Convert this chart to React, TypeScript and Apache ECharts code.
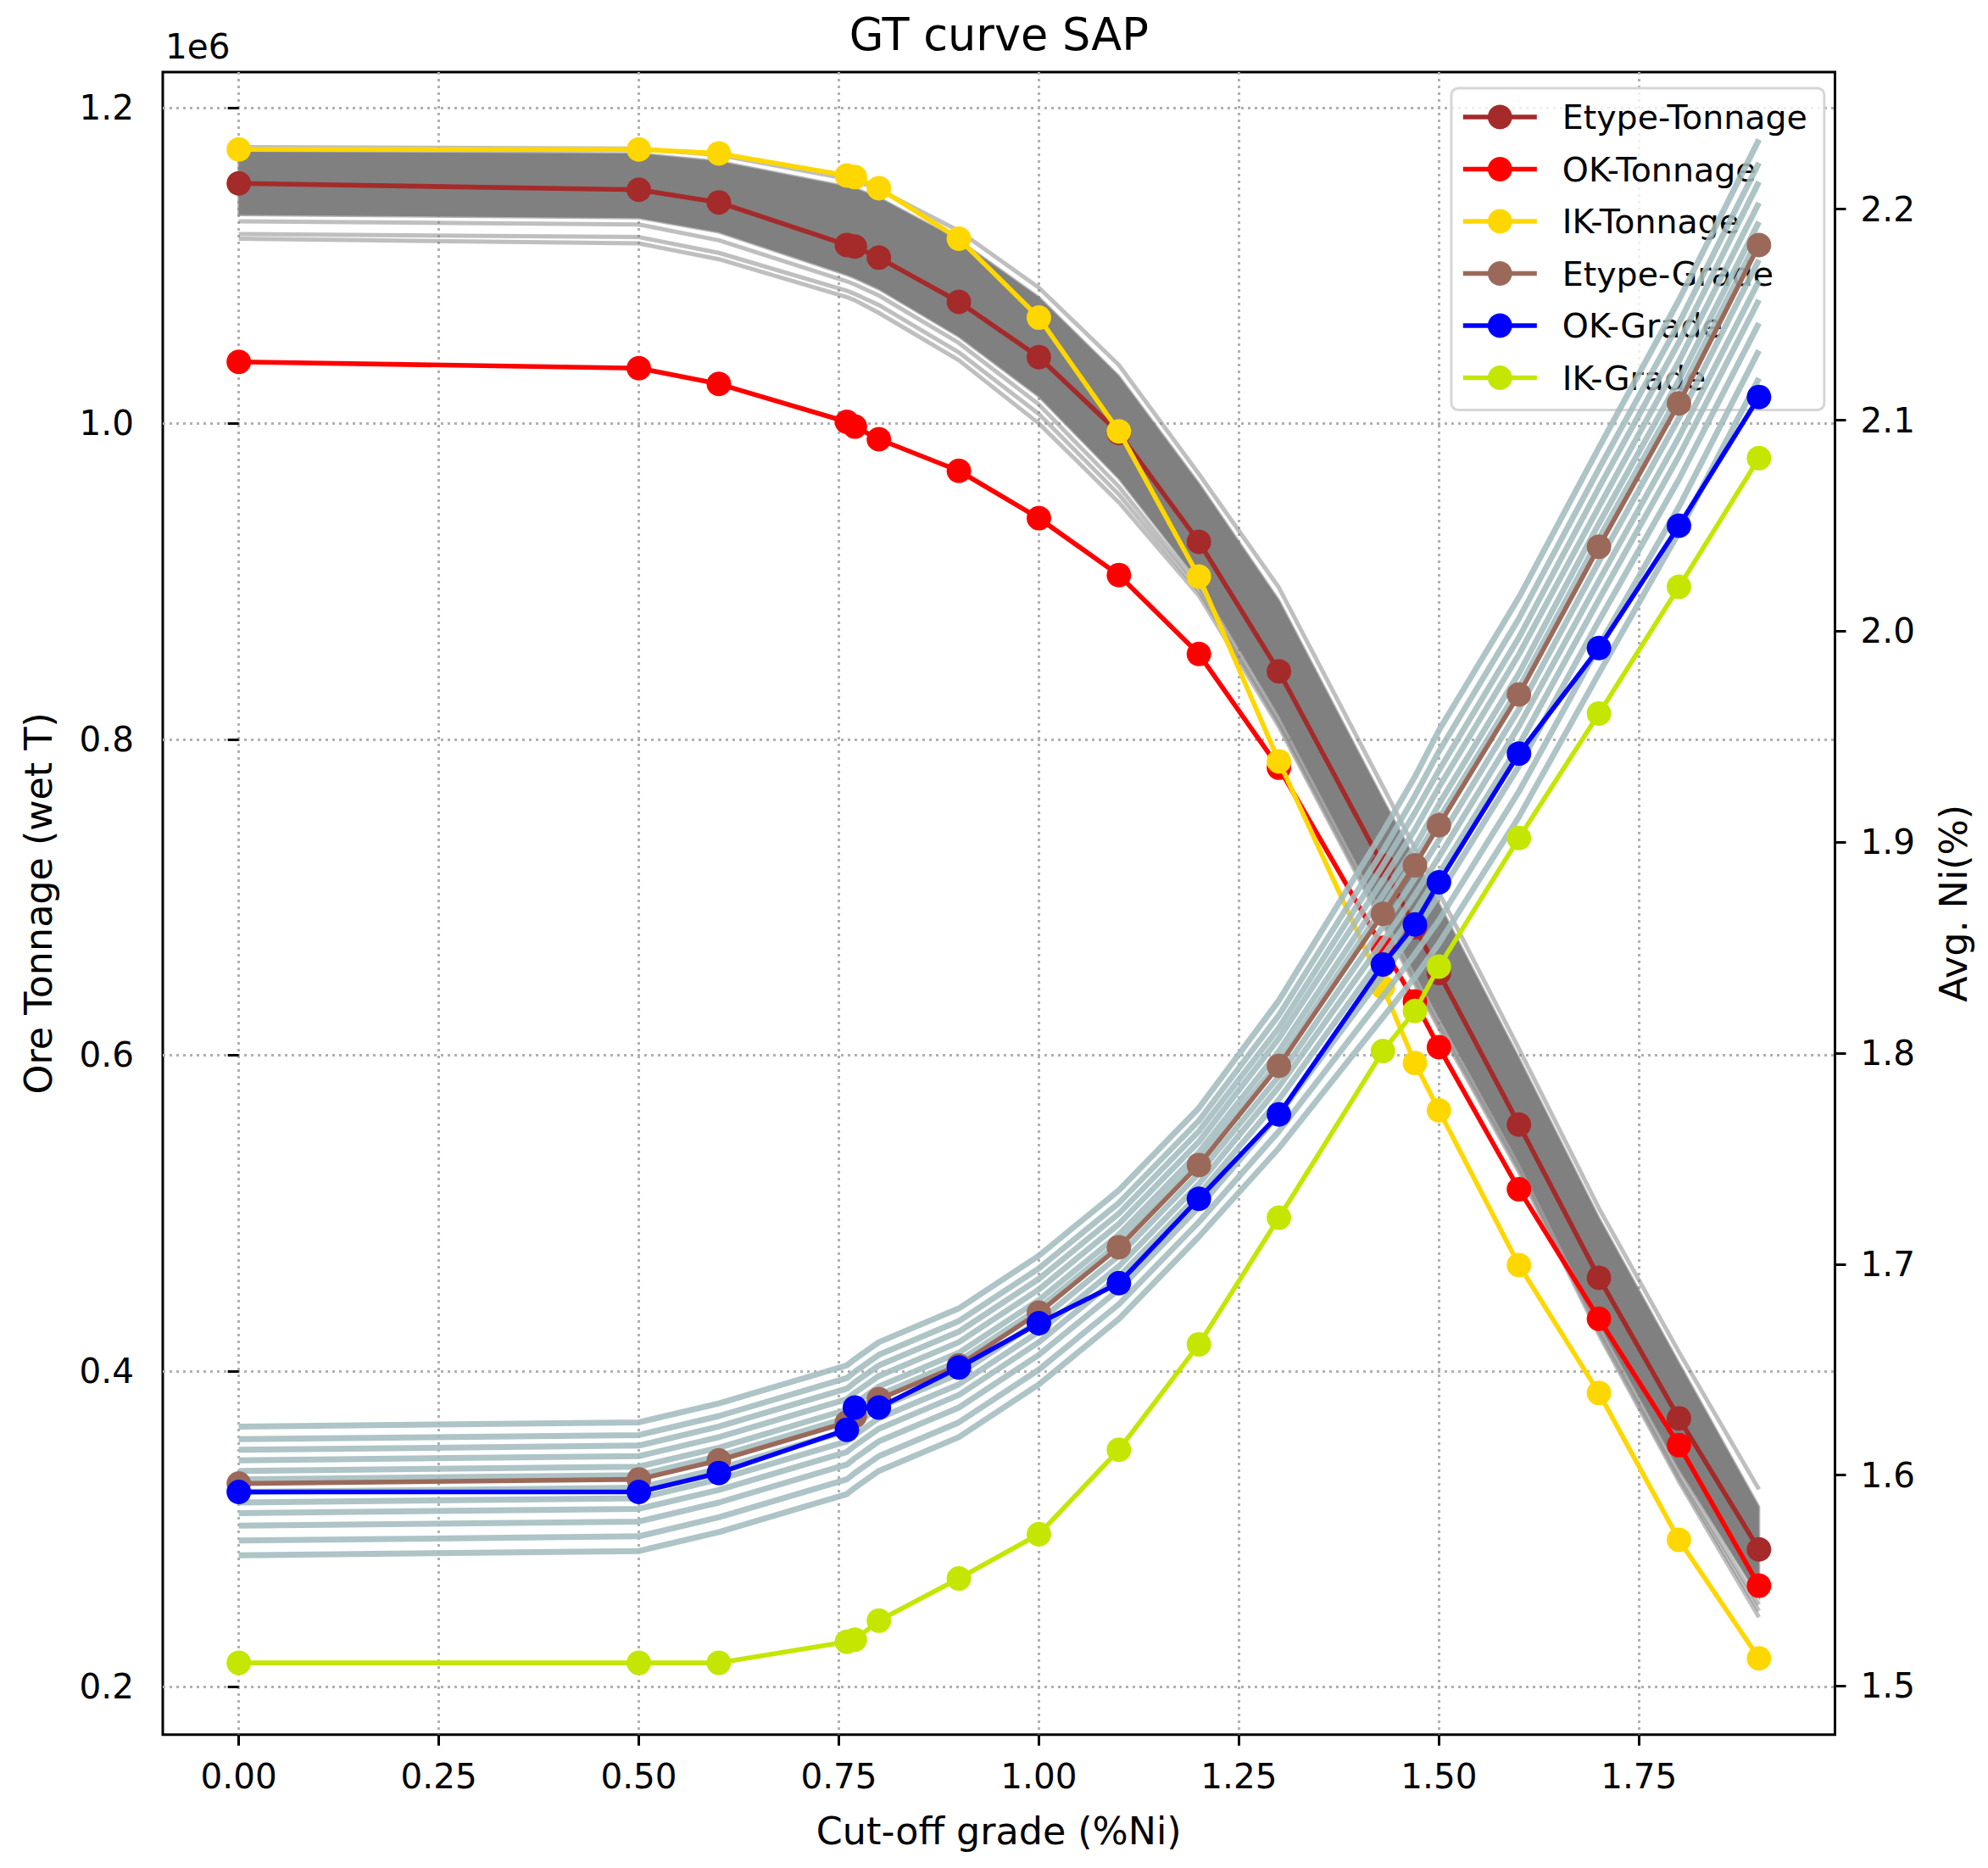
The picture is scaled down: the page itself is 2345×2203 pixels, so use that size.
import React, { useEffect, useRef } from "react";
import * as echarts from "echarts";

// ---------- data ----------
// cut-off grade (%Ni)
const X = [0, 0.5, 0.6, 0.76, 0.77, 0.8, 0.9, 1.0, 1.1, 1.2, 1.3, 1.43, 1.47, 1.5, 1.6, 1.7, 1.8, 1.9];
const X_TICKS = [0, 0.25, 0.5, 0.75, 1.0, 1.25, 1.5, 1.75];
const LEFT_TICKS = [0.2, 0.4, 0.6, 0.8, 1.0, 1.2];
const RIGHT_TICKS = [1.5, 1.6, 1.7, 1.8, 1.9, 2.0, 2.1, 2.2];

// Ore tonnage, in units of 1e6 wet T
const ETYPE_TON = [1.152, 1.148, 1.14, 1.113, 1.112, 1.105, 1.077, 1.042, 0.994, 0.925, 0.843, 0.72, 0.681, 0.652, 0.556, 0.459, 0.37, 0.287];
const OK_TON = [1.039, 1.035, 1.025, 1.001, 0.998, 0.99, 0.97, 0.94, 0.904, 0.854, 0.782, 0.668, 0.634, 0.605, 0.515, 0.433, 0.353, 0.264];
const IK_TON = [1.1735, 1.1735, 1.171, 1.157, 1.156, 1.149, 1.117, 1.067, 0.995, 0.903, 0.786, 0.643, 0.595, 0.565, 0.467, 0.386, 0.293, 0.218];

// Avg. Ni (%)
const ETYPE_GRADE = [1.596, 1.598, 1.607, 1.625, 1.628, 1.636, 1.652, 1.677, 1.708, 1.747, 1.794, 1.866, 1.889, 1.908, 1.97, 2.04, 2.108, 2.183];
const OK_GRADE = [1.592, 1.592, 1.601, 1.6215, 1.632, 1.632, 1.651, 1.672, 1.691, 1.731, 1.771, 1.842, 1.861, 1.881, 1.942, 1.992, 2.05, 2.111];
const IK_GRADE = [1.511, 1.511, 1.511, 1.521, 1.522, 1.531, 1.551, 1.572, 1.612, 1.662, 1.722, 1.801, 1.82, 1.841, 1.902, 1.961, 2.021, 2.082];

// simulated tonnage curves: dense core envelope + edge realisations (1e6 wet T)
const TON_CORE_HIGH = [1.172, 1.171, 1.166, 1.15, 1.149, 1.143, 1.116, 1.08, 1.03, 0.962, 0.888, 0.762, 0.724, 0.696, 0.598, 0.497, 0.405, 0.314];
const TON_CORE_LOW = [1.132, 1.13, 1.121, 1.094, 1.092, 1.085, 1.055, 1.017, 0.965, 0.9, 0.815, 0.69, 0.652, 0.624, 0.532, 0.43, 0.338, 0.257];
const TON_EDGES = [
  [1.128, 1.126, 1.116, 1.09, 1.088, 1.081, 1.051, 1.012, 0.96, 0.897, 0.812, 0.688, 0.65, 0.622, 0.53, 0.428, 0.335, 0.252],
  [1.12, 1.118, 1.108, 1.084, 1.082, 1.075, 1.045, 1.006, 0.955, 0.894, 0.81, 0.685, 0.647, 0.619, 0.528, 0.425, 0.332, 0.248],
  [1.117, 1.114, 1.104, 1.08, 1.078, 1.07, 1.04, 1.0, 0.95, 0.891, 0.808, 0.683, 0.645, 0.617, 0.526, 0.423, 0.33, 0.244],
  [1.175, 1.174, 1.17, 1.155, 1.154, 1.148, 1.122, 1.086, 1.037, 0.968, 0.896, 0.77, 0.731, 0.703, 0.604, 0.503, 0.412, 0.325],
];

// simulated grade curves (%Ni)
const GRADE_SIMS = [
  [1.623, 1.625, 1.634, 1.652, 1.655, 1.663, 1.679, 1.704, 1.735, 1.774, 1.825, 1.905, 1.931, 1.953, 2.016, 2.087, 2.157, 2.233],
  [1.617, 1.619, 1.628, 1.646, 1.649, 1.657, 1.673, 1.698, 1.729, 1.768, 1.818, 1.896, 1.922, 1.943, 2.006, 2.077, 2.146, 2.222],
  [1.612, 1.614, 1.623, 1.641, 1.644, 1.652, 1.668, 1.693, 1.724, 1.763, 1.812, 1.889, 1.914, 1.934, 1.997, 2.068, 2.137, 2.213],
  [1.607, 1.609, 1.618, 1.636, 1.639, 1.647, 1.663, 1.688, 1.719, 1.758, 1.807, 1.882, 1.906, 1.926, 1.989, 2.059, 2.128, 2.203],
  [1.602, 1.604, 1.613, 1.631, 1.634, 1.642, 1.658, 1.683, 1.714, 1.753, 1.801, 1.875, 1.898, 1.918, 1.98, 2.051, 2.119, 2.194],
  [1.598, 1.6, 1.609, 1.627, 1.63, 1.638, 1.654, 1.679, 1.71, 1.749, 1.796, 1.869, 1.892, 1.911, 1.973, 2.044, 2.112, 2.187],
  [1.592, 1.594, 1.603, 1.621, 1.624, 1.632, 1.648, 1.673, 1.704, 1.743, 1.789, 1.86, 1.883, 1.901, 1.963, 2.033, 2.101, 2.176],
  [1.587, 1.589, 1.598, 1.616, 1.619, 1.627, 1.643, 1.668, 1.699, 1.738, 1.784, 1.853, 1.875, 1.893, 1.955, 2.024, 2.092, 2.166],
  [1.582, 1.584, 1.593, 1.611, 1.614, 1.622, 1.638, 1.663, 1.694, 1.733, 1.778, 1.846, 1.867, 1.885, 1.946, 2.015, 2.083, 2.157],
  [1.576, 1.578, 1.587, 1.605, 1.608, 1.616, 1.632, 1.657, 1.688, 1.727, 1.771, 1.837, 1.858, 1.875, 1.936, 2.005, 2.072, 2.146],
  [1.569, 1.571, 1.58, 1.598, 1.601, 1.609, 1.625, 1.65, 1.681, 1.72, 1.763, 1.827, 1.847, 1.863, 1.924, 1.993, 2.059, 2.133],
  [1.562, 1.564, 1.573, 1.591, 1.594, 1.602, 1.618, 1.643, 1.674, 1.713, 1.755, 1.817, 1.836, 1.852, 1.912, 1.98, 2.047, 2.12],
];

const LEGEND_NAMES = ["Etype-Tonnage", "OK-Tonnage", "IK-Tonnage", "Etype-Grade", "OK-Grade", "IK-Grade"];

// ---------- layout / style ----------
const W = 2345;
const H = 2203;
const FONT = "'DejaVu Sans', 'Noto Sans', sans-serif";
const FS_TICK = 40.5;
const FS_LEGEND = 39.5;
const FS_LABEL = 44.4;
const FS_TITLE = 52.5;
const GRID = { left: 192, top: 85, right: 180.5, bottom: 157.3 };
const PLOT_CX = GRID.left + (W - GRID.left - GRID.right) / 2;
const PLOT_CY = GRID.top + (H - GRID.top - GRID.bottom) / 2;

const pts = (ys: number[]) => X.map((x, i) => [x, ys[i]]);

const mainLine = (name: string, ys: number[], color: string, yAxisIndex: number, z: number) => ({
  name,
  type: "line",
  data: pts(ys),
  yAxisIndex,
  z,
  symbol: "circle",
  symbolSize: 29,
  lineStyle: { color, width: 5.6 },
  itemStyle: { color, borderWidth: 0 },
  silent: true,
  emphasis: { disabled: true },
});

const simLine = (ys: number[], color: string, width: number, yAxisIndex: number, z: number) => ({
  type: "line",
  data: pts(ys),
  yAxisIndex,
  z,
  symbol: "none",
  showSymbol: false,
  lineStyle: { color, width },
  silent: true,
  emphasis: { disabled: true },
});

function buildOption() {
  const tickStyle = { show: true, length: 13, lineStyle: { color: "#000", width: 3 } };
  const labelBase = { color: "#000", fontSize: FS_TICK, fontFamily: FONT };

  const series: any[] = [];
  // tonnage simulation band (dense core), drawn as polygon through the axes' scales
  series.push({
    type: "custom",
    xAxisIndex: 0,
    yAxisIndex: 0,
    z: 1,
    silent: true,
    clip: true,
    data: [[X[0], TON_CORE_HIGH[0]]],
    renderItem: (_params: any, api: any) => {
      const up = X.map((x, i) => api.coord([x, TON_CORE_HIGH[i]]));
      const lo = X.map((x, i) => api.coord([x, TON_CORE_LOW[i]])).reverse();
      return {
        type: "polygon",
        shape: { points: up.concat(lo) },
        style: { fill: "#808080", stroke: "rgba(128,128,128,0.6)", lineWidth: 3 },
      };
    },
  });
  TON_EDGES.forEach((ys) => series.push(simLine(ys, "rgba(128,128,128,0.5)", 5, 0, 2)));

  series.push(mainLine("Etype-Tonnage", ETYPE_TON, "#a52a2a", 0, 3));
  series.push(mainLine("OK-Tonnage", OK_TON, "#ff0000", 0, 4));
  series.push(mainLine("IK-Tonnage", IK_TON, "#ffd700", 0, 5));

  GRADE_SIMS.forEach((ys) => series.push(simLine(ys, "rgba(163,188,190,0.88)", 7, 1, 7)));

  series.push(mainLine("Etype-Grade", ETYPE_GRADE, "#9b695a", 1, 8));
  series.push(mainLine("OK-Grade", OK_GRADE, "#0000ff", 1, 9));
  series.push(mainLine("IK-Grade", IK_GRADE, "#c4e600", 1, 10));

  const txt = (text: string, x: number, y: number, size: number, rotation = 0, align = "center") => ({
    type: "text",
    x,
    y,
    rotation,
    silent: true,
    style: {
      text,
      fill: "#000",
      fontSize: size,
      fontFamily: FONT,
      align,
      textAlign: align,
      verticalAlign: "middle",
      textVerticalAlign: "middle",
    },
  });

  return {
    animation: false,
    backgroundColor: "#ffffff",
    textStyle: { fontFamily: FONT },
    grid: {
      ...GRID,
      show: true,
      borderColor: "#000",
      borderWidth: 3,
      backgroundColor: "transparent",
      containLabel: false,
    },
    xAxis: {
      type: "value",
      min: -0.095,
      max: 1.995,
      axisLine: { show: false },
      axisTick: { ...tickStyle, customValues: X_TICKS },
      axisLabel: { ...labelBase, margin: 29, customValues: X_TICKS, formatter: (v: number) => v.toFixed(2) },
      splitLine: { show: true, lineStyle: { color: "#b0b0b0", width: 3, type: [3, 5] } },
    },
    yAxis: [
      {
        type: "value",
        position: "left",
        min: 0.1697,
        max: 1.2225,
        axisLine: { show: false },
        axisTick: { ...tickStyle, customValues: LEFT_TICKS },
        axisLabel: { ...labelBase, margin: 34, customValues: LEFT_TICKS, formatter: (v: number) => v.toFixed(1) },
        splitLine: { show: true, lineStyle: { color: "#b0b0b0", width: 3, type: [3, 5] } },
      },
      {
        type: "value",
        position: "right",
        min: 1.477,
        max: 2.265,
        axisLine: { show: false },
        axisTick: { ...tickStyle, customValues: RIGHT_TICKS },
        axisLabel: { ...labelBase, margin: 30, customValues: RIGHT_TICKS, formatter: (v: number) => v.toFixed(1) },
        splitLine: { show: false },
      },
    ],
    legend: {
      data: LEGEND_NAMES,
      orient: "vertical",
      left: 1712,
      top: 104,
      padding: [14, 20, 18, 11],
      itemGap: 21.5,
      itemWidth: 87,
      itemHeight: 36,
      backgroundColor: "rgba(255,255,255,0.8)",
      borderColor: "#d6d6d6",
      borderWidth: 3,
      borderRadius: 8,
      selectedMode: false,
      z: 6,
      lineStyle: { width: 5.6 },
      itemStyle: { borderWidth: 0 },
      textStyle: { color: "#000", fontSize: FS_LEGEND, fontFamily: FONT, padding: [0, 0, 0, 25] },
    },
    graphic: [
      txt("GT curve SAP", PLOT_CX, 40, FS_TITLE),
      txt("1e6", 195, 55, FS_TICK, 0, "left"),
      txt("Cut-off grade (%Ni)", PLOT_CX, 2159, FS_LABEL),
      txt("Ore Tonnage (wet T)", 45, PLOT_CY, FS_LABEL, Math.PI / 2),
      txt("Avg. Ni(%)", 2304.5, PLOT_CY, FS_LABEL, Math.PI / 2),
    ],
    series,
  };
}

export default function App() {
  const ref = useRef<HTMLDivElement>(null);
  useEffect(() => {
    if (!ref.current) return;
    const chart = echarts.init(ref.current, null, { renderer: "svg", width: W, height: H });
    chart.setOption(buildOption() as any);
    return () => chart.dispose();
  }, []);
  return (
    <div
      ref={ref}
      style={{ position: "absolute", left: 0, top: 0, width: W, height: H, background: "#fff" }}
    />
  );
}
